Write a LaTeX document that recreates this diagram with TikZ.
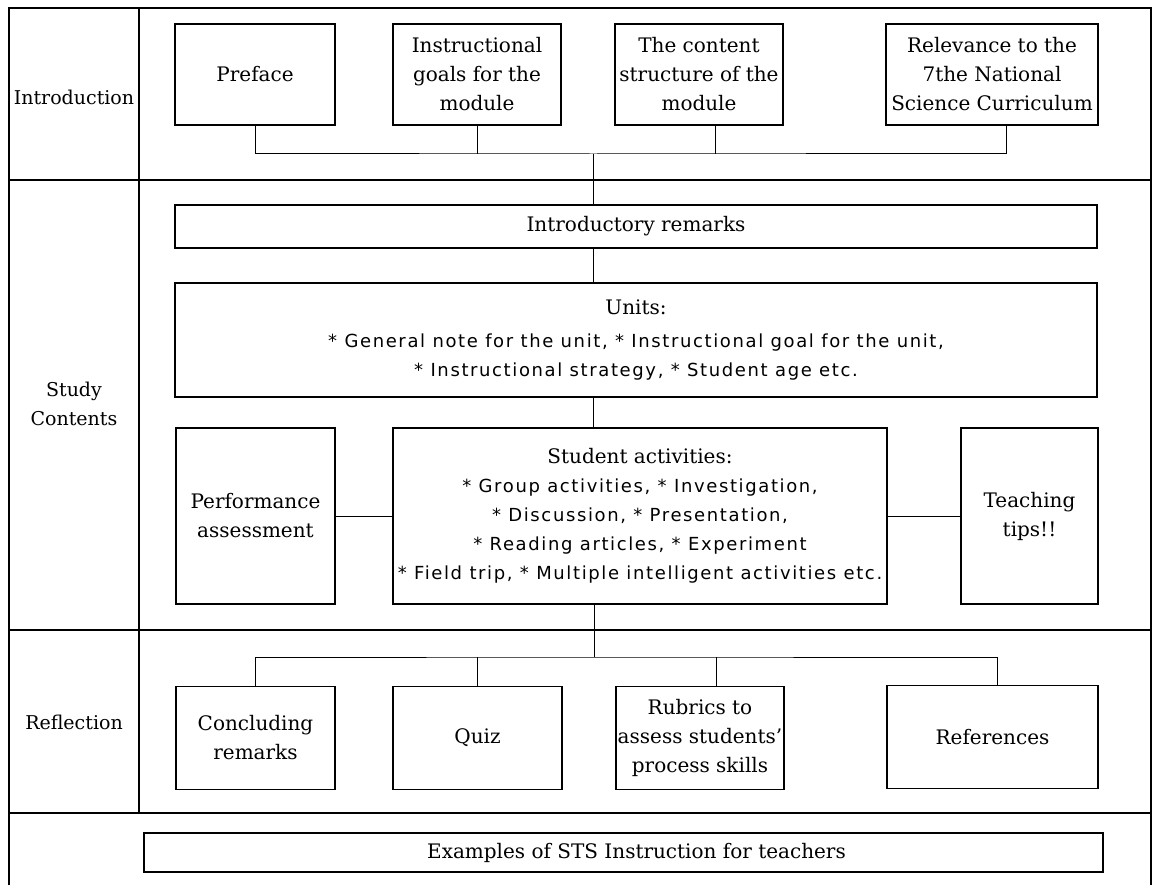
\documentclass[tikz,border=0pt]{standalone}
\usepackage{fontspec}
\setmainfont{DejaVu Serif}
\newfontfamily\bulletfont[LetterSpace=9]{DejaVu Sans}
\begin{document}
\begin{tikzpicture}[x=1pt,y=-1pt,
    framerule/.style={line width=2pt},
    unitbox/.style={draw, line width=1.1pt, align=center, inner sep=0pt,
      font=\fontsize{20}{29}\selectfont},
    wire/.style={line width=1pt},
    sidetext/.style={align=center, font=\fontsize{19}{29}\selectfont}]
  \useasboundingbox (0,0) rectangle (1154,885);

  % outer frame and the rows
  \draw[framerule] (9,885) -- (9,8) -- (1151,8) -- (1151,885);
  \draw[framerule] (139,8) -- (139,813);
  \draw[framerule] (9,180) -- (1151,180);
  \draw[framerule] (9,630) -- (1151,630);
  \draw[framerule] (9,813) -- (1151,813);

  \node[sidetext] (lintro) at (74,97) {Introduction};
  \node[sidetext] (lstudy) at (74,404) {Study\\Contents};
  \node[sidetext] (lrefl) at (74,722) {Reflection};

  % introduction
  \node[unitbox, minimum width=160, minimum height=101] (pre) at (255,74.5) {Preface};
  \node[unitbox, minimum width=168, minimum height=101] (goals) at (477,74.5) {Instructional\\goals for the\\module};
  \node[unitbox, minimum width=168, minimum height=101] (cont) at (699,74.5) {The content\\structure of the\\module};
  \node[unitbox, minimum width=212, minimum height=101] (relev) at (992,74.5) {Relevance to the\\7the National\\Science Curriculum};

  \coordinate (busA) at (593,154);
  \coordinate (contstub) at ([xshift=16pt]cont.south);
  \coordinate (relstub) at ([xshift=14pt]relev.south);
  \draw[wire] (pre.south) |- (busA) -| (relstub);
  \draw[wire] (goals.south) -- (goals.south |- busA);
  \draw[wire] (contstub) -- (contstub |- busA);

  % study contents
  \node[unitbox, minimum width=922, minimum height=43] (irem) at (636,226.5) {Introductory remarks};
  \node[unitbox, minimum width=922, minimum height=114] (units) at (636,340)
    {Units:\\[4pt]{\bulletfont\fontsize{18}{29}\selectfont * General note for the unit, * Instructional goal for the unit,}\\
     {\bulletfont\fontsize{18}{29}\selectfont * Instructional strategy, * Student age etc.}};
  \node[unitbox, minimum width=494, minimum height=176] (acts) at (640,516)
    {Student activities:\\
     {\bulletfont\fontsize{18}{29}\selectfont * Group activities, * Investigation,}\\
     {\bulletfont\fontsize{18}{29}\selectfont * Discussion, * Presentation,}\\
     {\bulletfont\fontsize{18}{29}\selectfont * Reading articles, * Experiment}\\
     {\bulletfont\fontsize{18}{29}\selectfont * Field trip, * Multiple intelligent activities etc.}};
  \node[unitbox, minimum width=159, minimum height=176] (perf) at (255.5,516) {Performance\\assessment};
  \node[unitbox, minimum width=137, minimum height=176] (tips) at (1029.5,516) {Teaching\\tips!!};

  \draw[wire] (busA) -- (busA |- irem.north);
  \draw[wire] (busA |- irem.south) -- (busA |- units.north);
  \draw[wire] (busA |- units.south) -- (busA |- acts.north);
  \draw[wire] (perf.east) -- (acts.west);
  \draw[wire] (acts.east) -- (tips.west);

  % reflection
  \node[unitbox, minimum width=159, minimum height=103] (conc) at (255.5,738) {Concluding\\remarks};
  \node[unitbox, minimum width=169, minimum height=103] (quiz) at (477.5,738) {Quiz};
  \node[unitbox, minimum width=168, minimum height=103] (rubr) at (700,738) {Rubrics to\\assess students'\\process skills};
  \node[unitbox, minimum width=211, minimum height=103] (refs) at (992.5,737) {References};

  \coordinate (busB) at (594,657);
  \coordinate (rubrstub) at ([xshift=16pt]rubr.north);
  \coordinate (refstub) at ([xshift=4.5pt]refs.north);
  \draw[wire] (busB |- acts.south) -- (busB);
  \draw[wire] (conc.north) |- (busB) -| (refstub);
  \draw[wire] (quiz.north) -- (quiz.north |- busB);
  \draw[wire] (rubrstub) -- (rubrstub |- busB);

  % examples row
  \node[unitbox, minimum width=959, minimum height=39] (exam) at (623.5,852.5) {\hspace{26pt}Examples of STS Instruction for teachers};
\end{tikzpicture}
\end{document}
